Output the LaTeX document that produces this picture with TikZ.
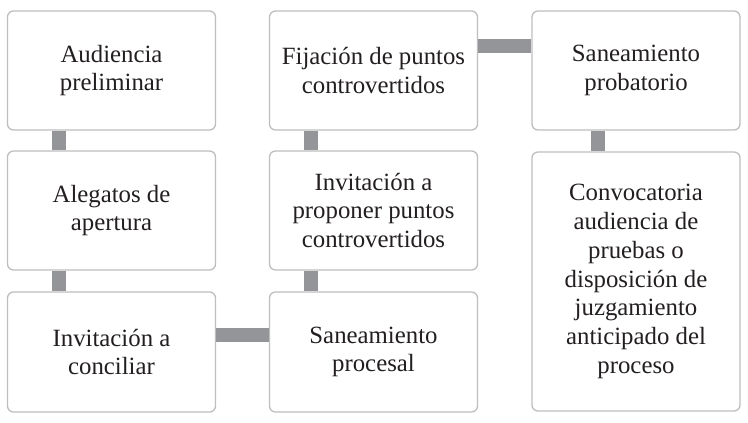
\documentclass[tikz,border=0pt]{standalone}
\usepackage{fontspec}
\setmainfont{Liberation Serif}
\definecolor{boxline}{RGB}{190,190,190}
\definecolor{connc}{RGB}{148,149,152}
\definecolor{txt}{RGB}{35,31,32}
\begin{document}
\begin{tikzpicture}[x=1pt,y=1pt,
  stepbox/.style={draw=boxline,line width=1.3pt,fill=white,rounded corners=6pt,
    minimum width=208pt,minimum height=119pt,inner sep=0pt,align=center,
    text=txt,font=\fontsize{24.8}{28.8}\selectfont},
  conn/.style={draw=connc,line width=14pt}]
\useasboundingbox (0,0) rectangle (748,423);
% columns: centers x; rows: image y -> tikz y = 423 - y
\node[stepbox] (a1) at (111.5,352.5) {Audiencia\\preliminar};
\node[stepbox] (a2) at (111.5,212.5) {Alegatos de\\apertura};
\node[stepbox,minimum height=120pt] (a3) at (111.5,71) {Invitación a\\conciliar};
\node[stepbox] (b1) at (373.5,352.5) {Fijación de puntos\\controvertidos};
\node[stepbox] (b2) at (373.5,212.5) {Invitación a\\proponer puntos\\controvertidos};
\node[stepbox,minimum height=120pt] (b3) at (373.5,71) {Saneamiento\\procesal};
\node[stepbox] (c1) at (636,352.5) {Saneamiento\\probatorio};
\node[stepbox,minimum height=259pt] (c2) at (636,141.5) {Convocatoria\\audiencia de\\pruebas o\\disposición de\\juzgamiento\\anticipado del\\proceso};
% connectors
\draw[conn] ([xshift=52pt]a1.south west) -- ([xshift=52pt]a2.north west);
\draw[conn] ([xshift=52pt]a2.south west) -- ([xshift=52pt]a3.north west);
\draw[conn] ([yshift=17pt]a3.east) -- ([yshift=17pt]b3.west);
\draw[conn] ([xshift=42.5pt]b3.north west) -- ([xshift=42.5pt]b2.south west);
\draw[conn] ([xshift=42.5pt]b2.north west) -- ([xshift=42.5pt]b1.south west);
\draw[conn] ([yshift=24pt]b1.east) -- ([yshift=24pt]c1.west);
\draw[conn] ([xshift=67pt]c1.south west) -- ([xshift=67pt]c2.north west);
\end{tikzpicture}
\end{document}
